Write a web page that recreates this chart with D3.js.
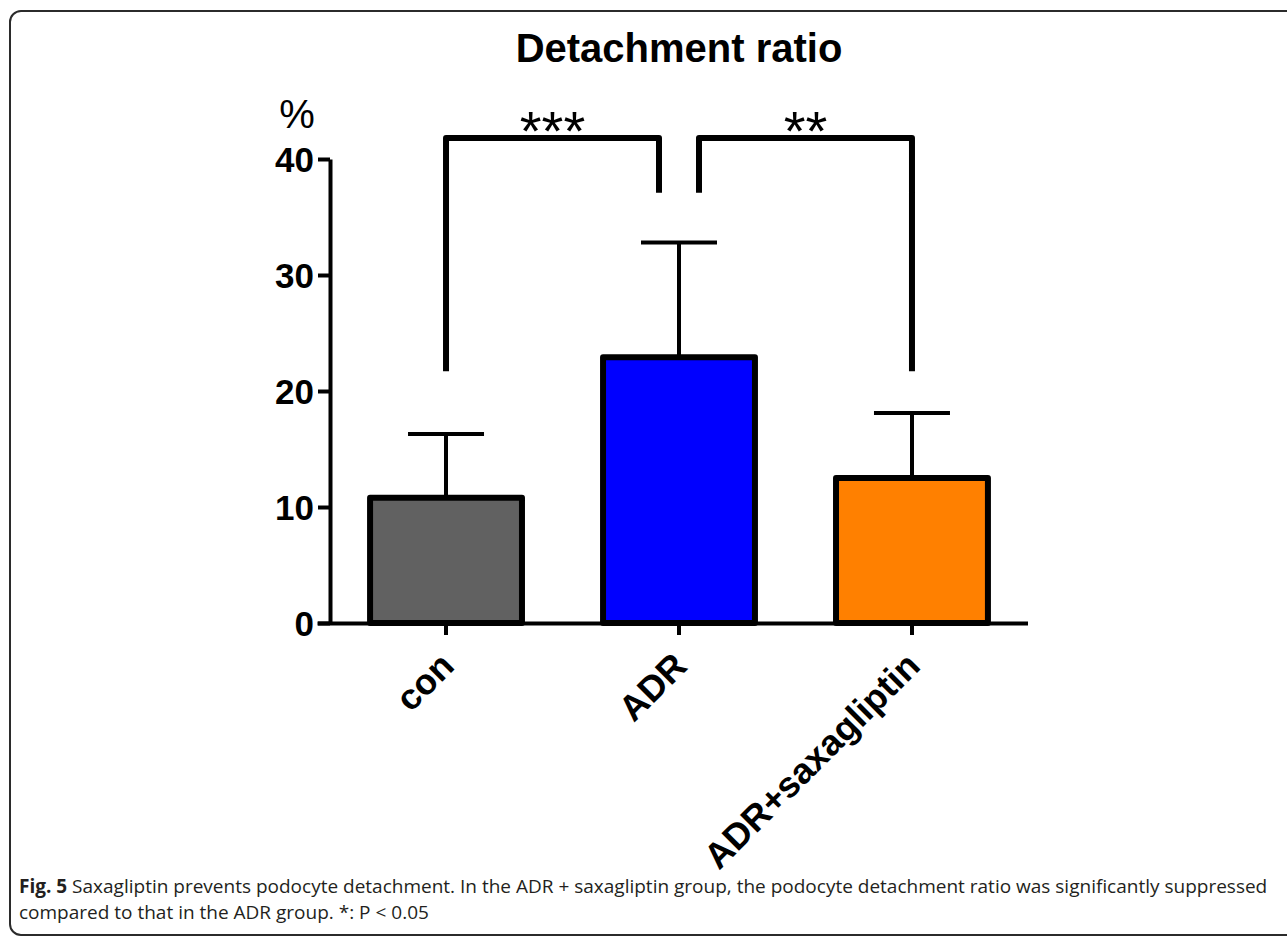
<!DOCTYPE html>
<html>
<head>
<meta charset="utf-8">
<script src="https://cdn.jsdelivr.net/npm/d3@7"></script>
<style>
  body { margin: 0; background: #fff; }
  svg { display: block; }
  .tick text { font-family: "Liberation Sans", Arial, sans-serif; font-weight: bold; fill: #000; }
</style>
</head>
<body>
<svg id="chart"></svg>
<script>
// values
const categories = ["con", "ADR", "ADR+saxagliptin"];
const means = [10.8, 22.9, 12.5];
const errors = [5.5, 9.9, 5.6];
const barColors = ["#616161", "#0000ff", "#ff8000"];
const yTicks = [0, 10, 20, 30, 40];

// significance brackets (in % units)
const brackets = [
  { from: 0, to: 1, label: "***", top: 41.8, leftEnd: 21.7, rightEnd: 37.1 },
  { from: 1, to: 2, label: "**", top: 41.8, leftEnd: 37.1, rightEnd: 21.7 }
];

const captionBold = "Fig. 5";
const captionLines = [
  " Saxagliptin prevents podocyte detachment. In the ADR + saxagliptin group, the podocyte detachment ratio was significantly suppressed",
  "compared to that in the ADR group. *: P < 0.05"
];

const width = 1287, height = 936;
const svg = d3.select("#chart").attr("width", width).attr("height", height);

// frame around the figure
svg.append("rect")
  .attr("x", 10).attr("y", 11)
  .attr("width", 1290).attr("height", 924)
  .attr("rx", 11)
  .attr("fill", "none")
  .attr("stroke", "#2b2b2b")
  .attr("stroke-width", 2);

const x = d3.scaleBand()
  .domain(categories)
  .range([330, 1028])
  .paddingInner(0.348)
  .paddingOuter(0.172);

const y = d3.scaleLinear()
  .domain([0, 40])
  .range([623, 159]);

// title
svg.append("text")
  .attr("x", 679).attr("y", 62)
  .attr("text-anchor", "middle")
  .style("font-family", "Liberation Sans, Arial, sans-serif")
  .style("font-weight", "bold")
  .style("font-size", "40px")
  .text("Detachment ratio");

// % unit label
svg.append("text")
  .attr("x", 297).attr("y", 128)
  .attr("text-anchor", "middle")
  .style("font-family", "Liberation Sans, Arial, sans-serif")
  .style("font-size", "40px")
  .text("%");

// error bars (drawn under the bars)
const g = svg.append("g");
const cx = d => x(d) + x.bandwidth() / 2;

g.selectAll(".err")
  .data(categories)
  .enter()
  .append("line")
  .attr("class", "err")
  .attr("x1", d => cx(d)).attr("x2", d => cx(d))
  .attr("y1", (d, i) => y(means[i]))
  .attr("y2", (d, i) => y(means[i] + errors[i]))
  .attr("stroke", "#000").attr("stroke-width", 4);

g.selectAll(".cap")
  .data(categories)
  .enter()
  .append("line")
  .attr("class", "cap")
  .attr("x1", d => cx(d) - 38).attr("x2", d => cx(d) + 38)
  .attr("y1", (d, i) => y(means[i] + errors[i]))
  .attr("y2", (d, i) => y(means[i] + errors[i]))
  .attr("stroke", "#000").attr("stroke-width", 4);

g.selectAll(".bar")
  .data(categories)
  .enter()
  .append("rect")
  .attr("class", "bar")
  .attr("x", d => x(d))
  .attr("width", x.bandwidth())
  .attr("y", (d, i) => y(means[i]))
  .attr("height", (d, i) => y(0) - y(means[i]))
  .attr("fill", (d, i) => barColors[i])
  .attr("stroke", "#000")
  .attr("stroke-width", 6)
  .attr("stroke-linejoin", "round");

// axes
const yAxis = d3.axisLeft(y).tickValues(yTicks).tickSize(12).tickSizeOuter(0).tickPadding(4);
const yG = svg.append("g").attr("transform", "translate(330,0)").call(yAxis);
yG.select(".domain").attr("stroke-width", 4);
yG.selectAll(".tick line").attr("stroke-width", 4);
yG.selectAll(".tick text").style("font-size", "35px").attr("dy", "0.36em");

const xAxis = d3.axisBottom(x).tickSize(12).tickSizeOuter(0).tickFormat("");
const xG = svg.append("g").attr("transform", "translate(0,623)").call(xAxis);
xG.select(".domain").attr("stroke-width", 4).attr("d", "M317.5,0.5H1028");
xG.selectAll(".tick line").attr("stroke-width", 4);

// x labels, rotated
svg.selectAll(".xlabel")
  .data(categories)
  .enter()
  .append("text")
  .attr("class", "xlabel")
  .attr("transform", d => `translate(${cx(d) + 10},668) rotate(-45)`)
  .attr("text-anchor", "end")
  .style("font-family", "Liberation Sans, Arial, sans-serif")
  .style("font-weight", "bold")
  .style("font-size", "36px")
  .text(d => d);

// significance brackets
const offset = 20;
brackets.forEach(b => {
  const x1 = cx(categories[b.from]) + (b.from === 1 ? offset : 0);
  const x2 = cx(categories[b.to]) - (b.to === 1 ? offset : 0);
  svg.append("path")
    .attr("d", `M${x1},${y(b.leftEnd)}V${y(b.top)}H${x2}V${y(b.rightEnd)}`)
    .attr("fill", "none")
    .attr("stroke", "#000")
    .attr("stroke-width", 6)
    .attr("stroke-linejoin", "round");
  svg.append("text")
    .attr("x", (x1 + x2) / 2)
    .attr("y", y(b.top) + 12)
    .attr("text-anchor", "middle")
    .style("font-family", "Liberation Sans, Arial, sans-serif")
    .style("font-size", "56px")
    .text(b.label);
});

// caption
const cap = svg.append("text")
  .attr("x", 19).attr("y", 893)
  .style("font-family", "Open Sans, sans-serif")
  .style("font-size", "19px")
  .style("fill", "#231f20");
cap.append("tspan").style("font-weight", "bold").text(captionBold);
cap.append("tspan").text(captionLines[0]);

svg.append("text")
  .attr("x", 19).attr("y", 919)
  .style("font-family", "Open Sans, sans-serif")
  .style("font-size", "19px")
  .style("fill", "#231f20")
  .text(captionLines[1]);
</script>
</body>
</html>
